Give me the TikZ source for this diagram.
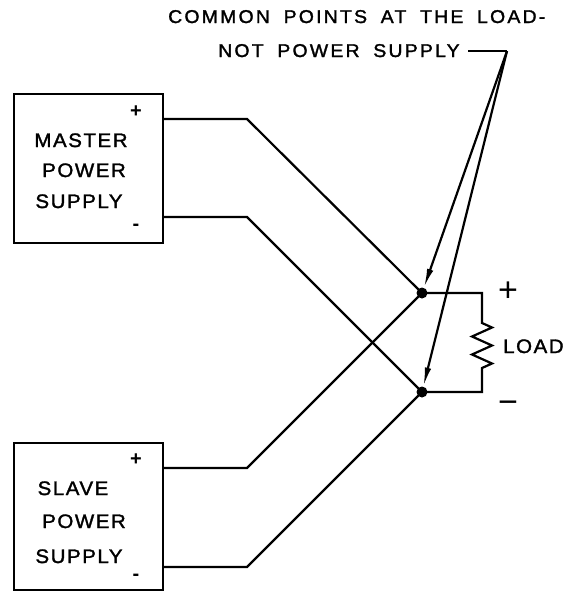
\documentclass[tikz,border=0pt]{standalone}
\usepackage{fontspec}
\setmainfont{Liberation Sans}
\newfontfamily\cad{Liberation Sans}[LetterSpace=8,WordSpace=1.8,FakeStretch=1.05,FakeBold=1.6]
\newfontfamily\cadtop{Liberation Sans}[LetterSpace=12,WordSpace=1.8,FakeStretch=1.05,FakeBold=1.6]
\usetikzlibrary{arrows.meta}
\begin{document}
\begin{tikzpicture}[x=1pt,y=-1pt,
  wire/.style={line width=2.2pt,line join=miter},
  psbox/.style={draw,line width=2.2pt,minimum width=149pt,inner sep=0pt},
  lbl/.style={font=\cad\fontsize{19.5}{20}\selectfont,inner sep=0pt},
  toplbl/.style={font=\cadtop\fontsize{18.5}{20}\selectfont,inner sep=0pt},
  sgn/.style={font=\fontsize{20}{20}\selectfont\bfseries,inner sep=0pt},
  bigsgn/.style={font=\fontsize{34}{34}\selectfont,inner sep=0pt},
  dotnode/.style={circle,fill,inner sep=0pt,minimum size=11pt},
  pointer/.style={line width=2.2pt,-{Latex[length=19pt,width=6.5pt]}}]
\useasboundingbox (0,0) rectangle (564,592);
% boxes
\node[psbox,minimum height=149pt] (master) at (88.5,168.5) {};
\node[psbox,minimum height=147pt] (slave) at (88.5,516.5) {};
% box labels
\node[lbl,anchor=base] (m1) at (81,147) {MASTER};
\node[lbl,anchor=base] (m2) at (84,177) {POWER};
\node[lbl,anchor=base] (m3) at (79,208) {SUPPLY};
\node[lbl,anchor=base] (s1) at (73,495) {SLAVE};
\node[lbl,anchor=base] (s2) at (84,528) {POWER};
\node[lbl,anchor=base] (s3) at (79,563) {SUPPLY};
\node[sgn] (mplus) at (136,112) {+};
\node[sgn] (mminus) at (136,227) {-};
\node[sgn] (splus) at (136,460) {+};
\node[sgn] (sminus) at (136,577) {-};
% terminals and bends
\coordinate (mp) at (163,119);
\coordinate (mpb) at (247,119);
\coordinate (mn) at (163,217);
\coordinate (mnb) at (247,217);
\coordinate (sp) at (163,468);
\coordinate (spb) at (247,468);
\coordinate (sn) at (163,567);
\coordinate (snb) at (247,567);
% common points
\node[dotnode] (dp) at (422,293) {};
\node[dotnode] (dn) at (422,392) {};
% wires
\draw[wire] (mp) -- (mpb) -- (dp.center);
\draw[wire] (mn) -- (mnb) -- (dn.center);
\draw[wire] (sp) -- (spb) -- (dp.center);
\draw[wire] (sn) -- (snb) -- (dn.center);
% load
\coordinate (lt) at (482,293);
\coordinate (rt) at (482,323);
\coordinate (rb) at (482,368);
\coordinate (lb) at (482,392);
\draw[wire] (dp.center) -- (lt) -- (rt) -- (492,327.5) -- (472,336.5) -- (492,345.5)
  -- (472,354.5) -- (492,363.5) -- (rb) -- (lb) -- (dn.center);
\node[lbl,anchor=base west] (load) at (503,353) {LOAD};
\node[bigsgn] (pplus) at (508,292) {+};
\node[bigsgn] (pminus) at (508,407) {\char"2212};
% note
\node[toplbl,anchor=base west] (n1) at (168,23) {COMMON POINTS AT THE LOAD-};
\node[toplbl,anchor=base west] (n2) at (218,57) {NOT POWER SUPPLY};
\coordinate (ls) at (468,51);
\coordinate (lk) at (507,51);
\draw[wire] (ls) -- (lk);
\draw[pointer] (lk) -- (dp);
\draw[pointer] (lk) -- (dn);
\end{tikzpicture}
\end{document}
